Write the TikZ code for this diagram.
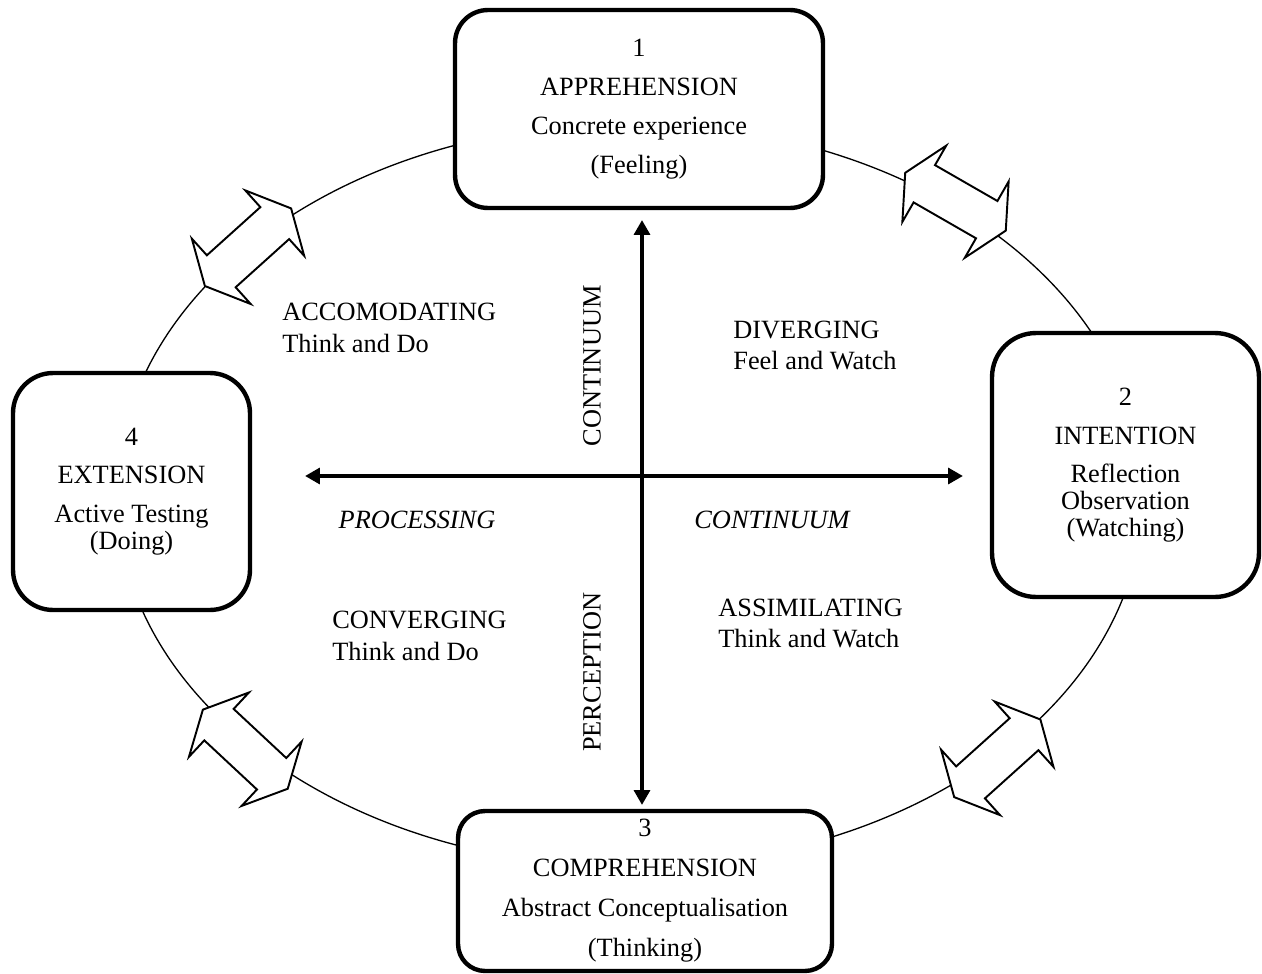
\documentclass[tikz,border=0pt]{standalone}
\usepackage{fontspec}
\setmainfont{Liberation Serif}
\usetikzlibrary{arrows.meta}
\newcommand{\axistip}{Triangle[length=8.5pt,width=9pt]}
\tikzset{
  stage/.style={draw, line width=2.5pt, fill=white, align=center, inner sep=0pt,
    font=\fontsize{15}{15.3}\selectfont},
  quadlabel/.style={align=left, inner sep=0pt, anchor=west,
    font=\fontsize{15}{15.3}\selectfont},
  axislabel/.style={inner sep=0pt, font=\fontsize{15}{15.3}\selectfont},
  axisline/.style={line width=2.4pt, {\axistip}-{\axistip}},
  ringline/.style={line width=0.75pt},
  flowarrow/.style={line width=1.1pt, fill=white, line join=miter}
}

\begin{document}
\begin{tikzpicture}[x=0.02cm, y=-0.02cm]
  \useasboundingbox (0,0) rectangle (1262,974);
  % learning cycle
  \draw[ringline] (630,495) ellipse [x radius=10.26cm, y radius=7.44cm];
  % hollow double arrows on the cycle
  \foreach \cx/\cy/\ang in {248/247.2/42, 955.5/201.7/-29.9, 245.3/749.2/-43, 997.3/758.3/42}
    \draw[flowarrow, shift={(\cx,\cy)}, rotate=\ang]
      (-58,0) -- (-36,44) -- (-36,21.5) -- (36,21.5) -- (36,44) -- (58,0)
      -- (36,-44) -- (36,-21.5) -- (-36,-21.5) -- (-36,-44) -- cycle;
  % the four stages
  \node[stage, minimum width=7.36cm, minimum height=3.96cm, rounded corners=0.66cm]
    (apprehension) at (639,109)
    {1\\[7pt]APPREHENSION\\[7pt]Concrete experience\\[7pt](Feeling)};
  \node[stage, minimum width=5.34cm, minimum height=5.28cm, rounded corners=0.88cm]
    (intention) at (1125.5,465)
    {2\\[6.5pt]INTENTION\\[6.5pt]Reflection\\Observation\\(Watching)};
  \node[stage, minimum width=7.48cm, minimum height=3.2cm, rounded corners=0.54cm]
    (comprehension) at (645,891)
    {3\\[7.5pt]COMPREHENSION\\[7.5pt]Abstract Conceptualisation\\[7.5pt](Thinking)};
  \node[stage, minimum width=4.74cm, minimum height=4.74cm, rounded corners=0.8cm]
    (extension) at (131.5,491.5)
    {4\\[6.5pt]EXTENSION\\[7pt]Active Testing\\(Doing)};
  % axes
  \coordinate (pertop) at (642,220);
  \coordinate (perbot) at (642,805);
  \coordinate (proleft) at (305,476);
  \coordinate (proright) at (963,476);
  \draw[axisline] (pertop) -- (perbot);
  \draw[axisline] (proleft) -- (proright);
  \node[axislabel, rotate=90] (percont) at (592,366) {CONTINUUM};
  \node[axislabel, rotate=90] (perception) at (592,672) {PERCEPTION};
  \node[axislabel] (processing) at (417,520) {\itshape PROCESSING};
  \node[axislabel] (procont) at (772,520) {\itshape CONTINUUM};
  % learning styles
  \node[quadlabel] (accomodating) at (282,328) {ACCOMODATING\\[2.7pt]Think and Do};
  \node[quadlabel] (diverging) at (733,345.5) {DIVERGING\\[2.7pt]Feel and Watch};
  \node[quadlabel] (converging) at (332,636) {CONVERGING\\[2.7pt]Think and Do};
  \node[quadlabel] (assimilating) at (718,623.5) {ASSIMILATING\\[2.7pt]Think and Watch};
\end{tikzpicture}
\end{document}
